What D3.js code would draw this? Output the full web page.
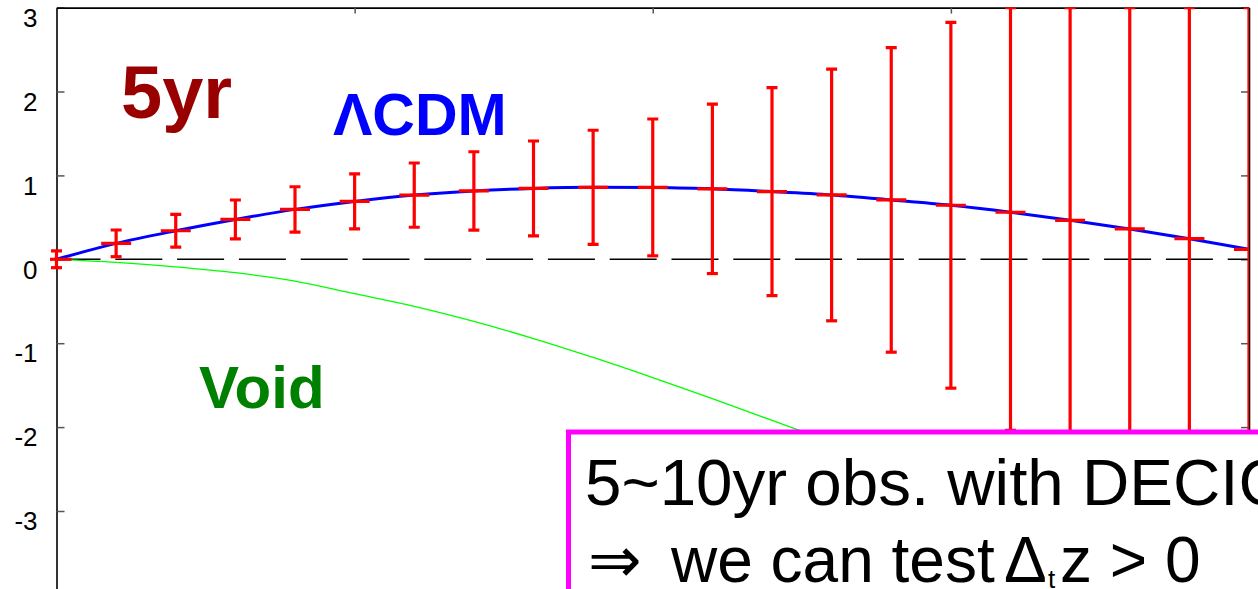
<!DOCTYPE html>
<html>
<head>
<meta charset="utf-8">
<script src="https://cdn.jsdelivr.net/npm/d3@7"></script>
<style>
  html, body { margin: 0; padding: 0; background: #fff; overflow: hidden; }
  svg { display: block; }
  text { font-family: "Liberation Sans", Arial, Helvetica, sans-serif; }
</style>
</head>
<body>
<svg id="chart" width="1258" height="589"></svg>
<script>
// Redshift sampling of the mock drift measurements
const redshifts = [0.0, 0.1, 0.2, 0.3, 0.4, 0.5, 0.6, 0.7, 0.8, 0.9, 1.0,
                   1.1, 1.2, 1.3, 1.4, 1.5, 1.6, 1.7, 1.8, 1.9, 2.0];
// Redshift drift predicted by the ΛCDM model
const lcdmDrift = [0.0, 0.19, 0.34, 0.475, 0.595, 0.69, 0.765, 0.815, 0.845, 0.858, 0.857,
                   0.84, 0.807, 0.767, 0.708, 0.644, 0.561, 0.465, 0.362, 0.246, 0.119];
// Redshift drift predicted by the void model
const voidDrift = [0.0, -0.036, -0.09, -0.16, -0.26, -0.41, -0.56, -0.74, -0.945, -1.17, -1.41,
                   -1.66, -1.92, -2.18, -2.46, -2.75, -3.05, -3.36, -3.68, -4.0, -4.33];
// 1-sigma error of a 5 yr observation at each redshift
const driftError = [0.1, 0.159, 0.196, 0.232, 0.27, 0.327, 0.383, 0.467, 0.565, 0.68, 0.815,
                    1.01, 1.24, 1.50, 1.815, 2.18, 2.6, 3.1, 3.7, 4.4, 5.2];
const yTicks = [-3, -2, -1, 0, 1, 2, 3];
const topTicks = [0.5, 1.0, 1.5];

const svg = d3.select("#chart");
const plotLeft = 56.5, plotRight = 1249, plotTop = 7.6;

const x = d3.scaleLinear().domain([0, 2]).range([plotLeft, plotRight]);
const y = d3.scaleLinear().domain([-4, 3]).range([594.9, plotTop]);

svg.append("defs").append("clipPath").attr("id", "plotClip")
  .append("rect")
  .attr("x", 50).attr("y", plotTop)
  .attr("width", plotRight - 50).attr("height", 600);

// Frame with inward ticks
const styleAxis = g => {
  g.select(".domain").attr("stroke", "#000").attr("stroke-width", 1.6);
  g.selectAll(".tick line").attr("stroke", "#555").attr("stroke-width", 1.5);
};

svg.append("g")
  .attr("transform", `translate(${plotLeft},0)`)
  .call(d3.axisLeft(y).tickValues(yTicks).tickSize(-8).tickSizeOuter(0).tickPadding(19)
    .tickFormat(d => String(d)))
  .call(styleAxis)
  .call(g => g.selectAll(".tick text")
    .attr("fill", "#000")
    .attr("dy", "0.72em")
    .style("font-size", "26px")
    .style("font-family", "'Liberation Sans', Arial, sans-serif"));

svg.append("g")
  .attr("transform", `translate(${plotRight},0)`)
  .call(d3.axisRight(y).tickValues(yTicks).tickSize(-8).tickSizeOuter(0).tickFormat(""))
  .call(styleAxis);

svg.append("g")
  .attr("transform", `translate(0,${plotTop})`)
  .call(d3.axisTop(x).tickValues(topTicks).tickSize(-6).tickSizeOuter(0).tickFormat(""))
  .call(styleAxis);

const plot = svg.append("g").attr("clip-path", "url(#plotClip)");

// Zero reference line
plot.append("line")
  .attr("x1", plotLeft).attr("x2", plotRight)
  .attr("y1", y(0)).attr("y2", y(0))
  .attr("stroke", "#000").attr("stroke-width", 1.4)
  .attr("stroke-dasharray", "47,14.8")
  .attr("stroke-dashoffset", 3);

const line = d3.line().curve(d3.curveMonotoneX)
  .x((d, i) => x(redshifts[i])).y(d => y(d));

// Void model
plot.append("path")
  .attr("d", line(voidDrift))
  .attr("fill", "none").attr("stroke", "#00ff00").attr("stroke-width", 1.3);

// ΛCDM model
plot.append("path")
  .attr("d", line(lcdmDrift))
  .attr("fill", "none").attr("stroke", "#0000ff").attr("stroke-width", 3);

// Error bars with caps and centre markers
const yMax = y.domain()[1];
const upper = i => y(Math.min(lcdmDrift[i] + driftError[i], yMax));
const lower = i => y(lcdmDrift[i] - driftError[i]);
const bars = plot.append("g").attr("stroke", "#ff0000").attr("stroke-width", 3.2)
  .selectAll("g").data(redshifts).join("g");
bars.append("line")
  .attr("x1", d => x(d)).attr("x2", d => x(d))
  .attr("y1", (d, i) => upper(i)).attr("y2", (d, i) => lower(i));
bars.append("line")
  .attr("x1", d => x(d) - 5.5).attr("x2", d => x(d) + 5.5)
  .attr("y1", (d, i) => upper(i)).attr("y2", (d, i) => upper(i));
bars.append("line")
  .attr("x1", d => x(d) - 5.5).attr("x2", d => x(d) + 5.5)
  .attr("y1", (d, i) => lower(i)).attr("y2", (d, i) => lower(i));
bars.append("line")
  .attr("x1", d => x(d) - 15).attr("x2", d => x(d) + 15)
  .attr("y1", (d, i) => y(lcdmDrift[i])).attr("y2", (d, i) => y(lcdmDrift[i]));

// Model and survey labels
svg.append("text").attr("x", 121).attr("y", 118.3)
  .attr("font-size", 74).attr("font-weight", "bold").attr("fill", "#990000").text("5yr");
svg.append("text").attr("x", 333).attr("y", 135)
  .attr("font-size", 59).attr("font-weight", "bold").attr("fill", "#0000ff").text("ΛCDM");
svg.append("text").attr("x", 199).attr("y", 407.7)
  .attr("font-size", 60).attr("font-weight", "bold").attr("fill", "#008000").text("Void");

// Annotation box
const note = svg.append("g");
note.append("rect")
  .attr("x", 568.5).attr("y", 432)
  .attr("width", 800).attr("height", 300)
  .attr("fill", "#fff").attr("stroke", "#ff00ff").attr("stroke-width", 5);
note.append("text").attr("x", 585).attr("y", 505)
  .attr("font-size", 65.5).attr("fill", "#000")
  .text("5~10yr obs. with DECIGO");
const l2 = note.append("text").attr("y", 582)
  .attr("font-size", 64).attr("fill", "#000");
l2.append("tspan").attr("x", 588).text("⇒");
l2.append("tspan").attr("x", 671).text("we can test");
l2.append("tspan").attr("x", 1004).text("Δ");
l2.append("tspan").attr("x", 1048).attr("font-size", 26).attr("dy", 6).text("t");
l2.append("tspan").attr("x", 1060).attr("dy", -6).text("z > 0");
</script>
</body>
</html>
